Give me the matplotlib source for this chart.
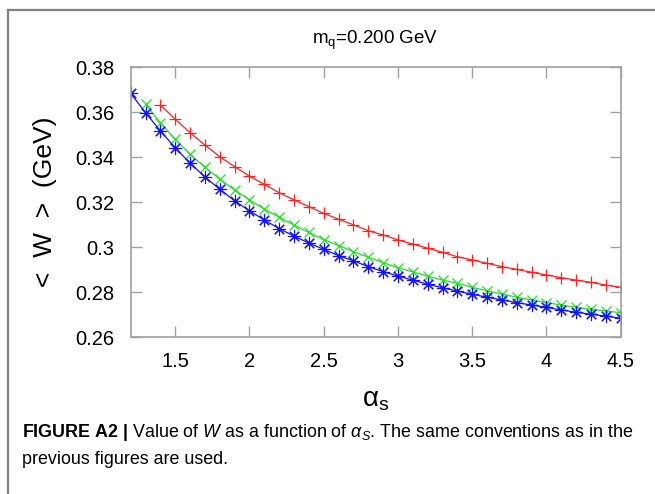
import matplotlib
matplotlib.use("Agg")

import matplotlib.pyplot as plt
from matplotlib.lines import Line2D

plt.rcParams["font.family"] = ["Liberation Sans", "DejaVu Sans"]
plt.rcParams["mathtext.fontset"] = "custom"
plt.rcParams["mathtext.rm"] = "Liberation Sans"
plt.rcParams["mathtext.it"] = "Liberation Sans:italic"
plt.rcParams["mathtext.bf"] = "Liberation Sans:bold"

# ── data ───────────────────────────────────────────────────────────────
alpha_blue = [1.2, 1.3, 1.4, 1.5, 1.6, 1.7, 1.8, 1.9, 2.0, 2.1, 2.2, 2.3,
              2.4, 2.5, 2.6, 2.7, 2.8, 2.9, 3.0, 3.1, 3.2, 3.3, 3.4, 3.5,
              3.6, 3.7, 3.8, 3.9, 4.0, 4.1, 4.2, 4.3, 4.4, 4.5]
w_blue = [0.3684, 0.3598, 0.3517, 0.3442, 0.3373, 0.3312, 0.3257, 0.3206,
          0.3161, 0.3121, 0.3082, 0.3049, 0.3018, 0.2990, 0.2962, 0.2939,
          0.2913, 0.2891, 0.2871, 0.2853, 0.2835, 0.2819, 0.2804, 0.2790,
          0.2777, 0.2765, 0.2753, 0.2742, 0.2732, 0.2720, 0.2710, 0.2701,
          0.2693, 0.2683]

alpha_green = alpha_blue[1:]
w_green = [0.3635, 0.3553, 0.3480, 0.3413, 0.3355, 0.3302, 0.3254, 0.3210,
           0.3169, 0.3133, 0.3098, 0.3065, 0.3033, 0.3007, 0.2980, 0.2955,
           0.2931, 0.2908, 0.2890, 0.2871, 0.2853, 0.2839, 0.2821, 0.2806,
           0.2791, 0.2777, 0.2765, 0.2753, 0.2742, 0.2732, 0.2723, 0.2716,
           0.2708]

alpha_red = alpha_blue[2:]
w_red = [0.3632, 0.3569, 0.3509, 0.3454, 0.3402, 0.3358, 0.3316, 0.3279,
         0.3242, 0.3210, 0.3180, 0.3150, 0.3124, 0.3099, 0.3073, 0.3054,
         0.3032, 0.3013, 0.2995, 0.2977, 0.2957, 0.2943, 0.2928, 0.2913,
         0.2901, 0.2888, 0.2876, 0.2864, 0.2853, 0.2843, 0.2831, 0.2821]

x_ticks = [1.5, 2, 2.5, 3, 3.5, 4, 4.5]
x_ticklabels = ["1.5", "2", "2.5", "3", "3.5", "4", "4.5"]
y_ticks = [0.26, 0.28, 0.30, 0.32, 0.34, 0.36, 0.38]
y_ticklabels = ["0.26", "0.28", "0.3", "0.32", "0.34", "0.36", "0.38"]

# ── figure ─────────────────────────────────────────────────────────────
fig = plt.figure(figsize=(6.55, 4.94), dpi=100, facecolor="white")

# frame around the figure panel
FR = "#808080"
fig.add_artist(Line2D([7.5 / 655, 7.5 / 655], [0, 1 - 10 / 494],
                      transform=fig.transFigure, color=FR, lw=1.6))
fig.add_artist(Line2D([7.5 / 655, 1], [1 - 10 / 494, 1 - 10 / 494],
                      transform=fig.transFigure, color=FR, lw=1.6))

ax = fig.add_axes([130.7 / 655, 1 - 337 / 494, 490 / 655, 269.7 / 494])

ax.plot(alpha_red, w_red, color="#ff2020", lw=0.9, marker="+", ms=9,
        mew=0.9)
ax.plot(alpha_green, w_green, color="#22e022", lw=0.9, marker="x", ms=7.5,
        mew=0.9)
ax.plot(alpha_blue, w_blue, color="#1010ff", lw=0.9, marker=(8, 2, 0),
        ms=9.5, mew=0.8)

ax.set_xlim(1.2, 4.5)
ax.set_ylim(0.26, 0.38)
ax.set_xticks(x_ticks, x_ticklabels)
ax.set_yticks(y_ticks, y_ticklabels)

SP = "#a0a0a0"
for sp in ax.spines.values():
    sp.set_color(SP)
    sp.set_linewidth(1.2)
ax.tick_params(direction="in", length=8, width=1.0, color=SP,
               top=True, right=True, labelsize=14.5)
ax.tick_params(axis="x", pad=11)
ax.tick_params(axis="y", pad=12)

ax.set_xlabel(r"$\mathregular{\alpha_s}$", fontsize=20, labelpad=11)
ax.set_ylabel("<  W  >  (GeV)", fontsize=19, labelpad=13)

fig.text(375 / 655, 1 - 40 / 494, r"m$_\mathregular{q}$=0.200 GeV",
         ha="center", va="center", fontsize=13.5)

fig.text(22 / 655, 1 - 432 / 494,
         r"$\mathbf{FIGURE\ A2\ |}$ Value of $\mathit{W}$ as a function of "
         r"$\mathit{\alpha_S}$. The same conventions as in the",
         ha="left", va="center", fontsize=12.9)
fig.text(22 / 655, 1 - 459 / 494, "previous figures are used.",
         ha="left", va="center", fontsize=12.9)

fig.savefig("out.png", dpi=100, facecolor="white")
